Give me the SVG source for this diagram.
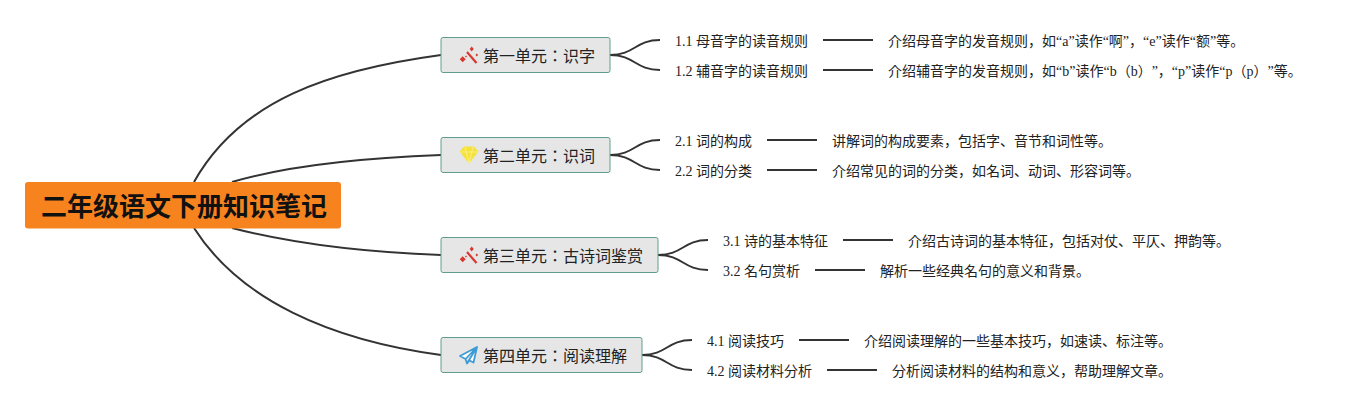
<svg xmlns="http://www.w3.org/2000/svg" width="1362" height="410" viewBox="0 0 1362 410">
<style>
text{font-family:"Liberation Serif","Noto Sans CJK JP",serif;fill:#222;text-spacing-trim:space-all}
.t{font-size:16px}
.s{font-size:14px}
.r{font-size:26px;font-weight:bold;fill:#111}
.b{fill:#e6e6e6;stroke:#5f9e8f;stroke-width:1}
#connectors path{fill:none;stroke:#333;stroke-width:2}
</style>
<defs>
<g id="wand"><path d="M6 0L15.500 11" stroke="#d8392f" stroke-width="2.200" fill="none"/><path d="M-1.300 7.300l3-3 3 3-3 3z M8.700 -3l2-2.500 2 2.500-2 2.500z M14.500 3l1.300-1.500 1.300 1.500-1.300 1.500z M4 4.500l1-1 1 1-1 1z" fill="#d8392f"/></g>
</defs>
<g id="connectors">
<path d="M194 182C240 100 330 70 441 55"/>
<path d="M232 182C290 165 360 158 441 155"/>
<path d="M232 228C290 243 360 252 441 255"/>
<path d="M194 228C240 300 330 340 441 355"/>
<path d="M610 55C635 55 635 40 660 40"/>
<path d="M610 55C635 55 635 70 660 70"/>
<path d="M610 155C635 155 635 140 660 140"/>
<path d="M610 155C635 155 635 170 660 170"/>
<path d="M658 255C683 255 683 240 708 240"/>
<path d="M658 255C683 255 683 270 708 270"/>
<path d="M642 355C667 355 667 340 692 340"/>
<path d="M642 355C667 355 667 370 692 370"/>
<path d="M823 40H873M823 70H873M767 140H817M767 170H817M843 240H893M815 270H865M799 340H849M827 370H877"/>
</g>
<g id="root"><rect x="25" y="182" width="316" height="46.500" rx="3" fill="#f7831f"/><text class="r" x="41" y="216">二年级语文下册知识笔记</text></g>
<g id="unit1"><rect class="b" x="441" y="37.500" width="169" height="35" rx="2"/><use href="#wand" x="461" y="52"/><text class="t" x="483" y="62">第一单元：识字</text></g>
<g id="unit2"><rect class="b" x="441" y="137.500" width="169" height="35" rx="2"/><path d="M464 146.500h10l4.500 5-9.500 12-9.500-12z" fill="#f5e23a"/><path d="M460 152h18M465 147l4 16 4-16" stroke="#fff3a0" stroke-width=".7" fill="none"/><text class="t" x="483" y="162">第二单元：识词</text></g>
<g id="unit3"><rect class="b" x="441" y="237.500" width="217" height="35" rx="2"/><use href="#wand" x="461" y="252"/><text class="t" x="483" y="262">第三单元：古诗词鉴赏</text></g>
<g id="unit4"><rect class="b" x="441" y="337.500" width="201" height="35" rx="2"/><path d="M477 347L460 356l5.500 3 1.500 4.500 2.500-3 4 2zM465.500 359L477 347 467 363.500" fill="#fff" stroke="#3f9bd6" stroke-width="1.800" stroke-linejoin="round"/><text class="t" x="483" y="362">第四单元：阅读理解</text></g>
<g id="n11"><text class="s" x="675" y="46">1.1 母音字的读音规则</text></g>
<g id="d11"><text class="s" x="888" y="46">介绍母音字的发音规则，如“a”读作“啊”，“e”读作“额”等。</text></g>
<g id="n12"><text class="s" x="675" y="76">1.2 辅音字的读音规则</text></g>
<g id="d12"><text class="s" x="888" y="76">介绍辅音字的发音规则，如“b”读作“b（b）”，“p”读作“p（p）”等。</text></g>
<g id="n21"><text class="s" x="675" y="146">2.1 词的构成</text></g>
<g id="d21"><text class="s" x="832" y="146">讲解词的构成要素，包括字、音节和词性等。</text></g>
<g id="n22"><text class="s" x="675" y="176">2.2 词的分类</text></g>
<g id="d22"><text class="s" x="832" y="176">介绍常见的词的分类，如名词、动词、形容词等。</text></g>
<g id="n31"><text class="s" x="723" y="246">3.1 诗的基本特征</text></g>
<g id="d31"><text class="s" x="908" y="246">介绍古诗词的基本特征，包括对仗、平仄、押韵等。</text></g>
<g id="n32"><text class="s" x="723" y="276">3.2 名句赏析</text></g>
<g id="d32"><text class="s" x="880" y="276">解析一些经典名句的意义和背景。</text></g>
<g id="n41"><text class="s" x="707" y="346">4.1 阅读技巧</text></g>
<g id="d41"><text class="s" x="864" y="346">介绍阅读理解的一些基本技巧，如速读、标注等。</text></g>
<g id="n42"><text class="s" x="707" y="376">4.2 阅读材料分析</text></g>
<g id="d42"><text class="s" x="892" y="376">分析阅读材料的结构和意义，帮助理解文章。</text></g>
</svg>
